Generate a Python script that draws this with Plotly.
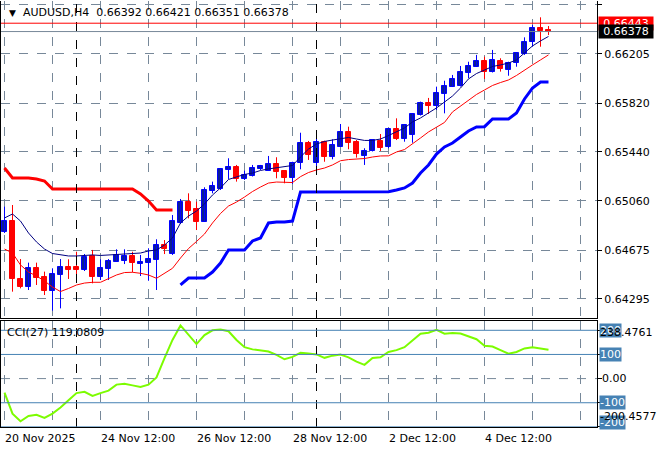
import plotly.graph_objects as go

# ---------------- data ----------------
x_idx = list(range(69))  # H4 bars, 20 Nov 2025 12:00 ... 5 Dec 2025 08:00

open_ = [0.64819, 0.64902, 0.64453, 0.64391, 0.64539, 0.64469, 0.64359, 0.64484, 0.64546, 0.64546,
         0.64521, 0.64630, 0.64464, 0.64531, 0.64585, 0.64589, 0.64630, 0.64570, 0.64578, 0.64599,
         0.64715, 0.64645, 0.64885, 0.65053, 0.64996, 0.64897, 0.65138, 0.65149, 0.65302, 0.65323,
         0.65232, 0.65253, 0.65310, 0.65294, 0.65346, 0.65292, 0.65235, 0.65352, 0.65508, 0.65357,
         0.65518, 0.65403, 0.65481, 0.65596, 0.65518, 0.65409, 0.65448, 0.65526, 0.65477, 0.65617,
         0.65539, 0.65572, 0.65728, 0.65822, 0.65801, 0.65892, 0.65949, 0.65954, 0.66053, 0.66104,
         0.66149, 0.66063, 0.66149, 0.66079, 0.66131, 0.66203, 0.66299, 0.66404, 0.66392]
high = [0.65014, 0.65027, 0.64606, 0.64578, 0.64578, 0.64508, 0.64534, 0.64606, 0.64604, 0.64663,
        0.64645, 0.64677, 0.64604, 0.64606, 0.64682, 0.64682, 0.64663, 0.64638, 0.64690, 0.64760,
        0.64754, 0.64949, 0.65074, 0.65118, 0.65053, 0.65165, 0.65209, 0.65313, 0.65391, 0.65339,
        0.65294, 0.65339, 0.65339, 0.65409, 0.65399, 0.65296, 0.65364, 0.65590, 0.65526, 0.65598,
        0.65528, 0.65539, 0.65658, 0.65637, 0.65533, 0.65469, 0.65539, 0.65580, 0.65625, 0.65702,
        0.65658, 0.65741, 0.65832, 0.65861, 0.65949, 0.65995, 0.66040, 0.66110, 0.66143, 0.66196,
        0.66182, 0.66235, 0.66170, 0.66143, 0.66214, 0.66333, 0.66429, 0.66489, 0.66421]
low = [0.64809, 0.64352, 0.64378, 0.64365, 0.64404, 0.64326, 0.64204, 0.64222, 0.64451, 0.64482,
       0.64513, 0.64417, 0.64443, 0.64443, 0.64583, 0.64567, 0.64503, 0.64474, 0.64437, 0.64365,
       0.64645, 0.64638, 0.64879, 0.64923, 0.64832, 0.64895, 0.65118, 0.65144, 0.65230, 0.65209,
       0.65222, 0.65249, 0.65300, 0.65292, 0.65235, 0.65196, 0.65191, 0.65305, 0.65378, 0.65325,
       0.65364, 0.65383, 0.65479, 0.65461, 0.65396, 0.65339, 0.65444, 0.65448, 0.65469, 0.65533,
       0.65520, 0.65512, 0.65724, 0.65736, 0.65767, 0.65741, 0.65946, 0.65950, 0.66014, 0.66102,
       0.66009, 0.66059, 0.66066, 0.66034, 0.66104, 0.66196, 0.66260, 0.66260, 0.66351]
close = [0.64902, 0.64448, 0.64388, 0.64539, 0.64456, 0.64359, 0.64490, 0.64546, 0.64521, 0.64521,
         0.64624, 0.64464, 0.64539, 0.64593, 0.64638, 0.64630, 0.64573, 0.64585, 0.64606, 0.64715,
         0.64684, 0.64902, 0.65053, 0.64983, 0.64897, 0.65144, 0.65175, 0.65308, 0.65323, 0.65230,
         0.65258, 0.65313, 0.65331, 0.65344, 0.65286, 0.65234, 0.65357, 0.65508, 0.65417, 0.65518,
         0.65403, 0.65494, 0.65596, 0.65512, 0.65424, 0.65450, 0.65533, 0.65473, 0.65617, 0.65544,
         0.65648, 0.65736, 0.65824, 0.65801, 0.65897, 0.65954, 0.66009, 0.66063, 0.66110, 0.66149,
         0.66061, 0.66157, 0.66087, 0.66131, 0.66209, 0.66299, 0.66404, 0.66385, 0.66378]

ma_navy = [0.64926, 0.64957, 0.64902, 0.64809, 0.64739, 0.64684, 0.64649, 0.64638, 0.64630, 0.64630,
           0.64634, 0.64638, 0.64634, 0.64638, 0.64645, 0.64649, 0.64653, 0.64653, 0.64669, 0.64677,
           0.64715, 0.64770, 0.64887, 0.64941, 0.64980, 0.65035, 0.65105, 0.65160, 0.65226, 0.65245,
           0.65265, 0.65276, 0.65296, 0.65308, 0.65319, 0.65327, 0.65335, 0.65401, 0.65463, 0.65502,
           0.65522, 0.65533, 0.65545, 0.65553, 0.65541, 0.65530, 0.65530, 0.65541, 0.65568, 0.65596,
           0.65627, 0.65674, 0.65705, 0.65744, 0.65783, 0.65829, 0.65876, 0.65938, 0.66009, 0.66051,
           0.66079, 0.66106, 0.66118, 0.66133, 0.66157, 0.66211, 0.66266, 0.66305, 0.66340]
ma_red = [0.64684, 0.64653, 0.64560, 0.64505, 0.64474, 0.64435, 0.64388, 0.64353, 0.64377, 0.64404,
          0.64419, 0.64425, 0.64425, 0.64451, 0.64482, 0.64501, 0.64503, 0.64495, 0.64482, 0.64456,
          0.64497, 0.64534, 0.64614, 0.64688, 0.64743, 0.64801, 0.64887, 0.64961, 0.65019, 0.65050,
          0.65089, 0.65132, 0.65167, 0.65198, 0.65206, 0.65206, 0.65202, 0.65248, 0.65280, 0.65300,
          0.65315, 0.65339, 0.65372, 0.65381, 0.65385, 0.65389, 0.65401, 0.65409, 0.65410, 0.65440,
          0.65459, 0.65502, 0.65549, 0.65596, 0.65635, 0.65670, 0.65752, 0.65798, 0.65837, 0.65888,
          0.65923, 0.65958, 0.65981, 0.66001, 0.66036, 0.66079, 0.66118, 0.66157, 0.66196]

stop_down = [0.65315, 0.65237, 0.65237, 0.65237, 0.65230, 0.65214, 0.65152, 0.65152, 0.65152, 0.65152,
             0.65152, 0.65152, 0.65152, 0.65152, 0.65152, 0.65152, 0.65152, 0.65113, 0.65058, 0.64988,
             0.64988, 0.64988] + [None] * 47
stop_up = [None] * 22 + [
    0.64404, 0.64458, 0.64458, 0.64458, 0.64505, 0.64575, 0.64677, 0.64677,
    0.64677, 0.64747, 0.64770, 0.64887, 0.64895, 0.64895, 0.64902, 0.65128, 0.65128, 0.65128,
    0.65128, 0.65128, 0.65128, 0.65128, 0.65128, 0.65128, 0.65128, 0.65128, 0.65131, 0.65144,
    0.65160, 0.65198, 0.65276, 0.65339, 0.65424, 0.65479, 0.65510, 0.65557, 0.65604, 0.65635,
    0.65637, 0.65697, 0.65697, 0.65697, 0.65744, 0.65853, 0.65938, 0.65985, 0.65985]

cci = [-58, -145, -177, -155, -150, -163, -145, -120, -90, -60,
       -55, -72, -60, -50, -25, -21, -28, -35, -25, 5,
       85, 160, 220, 180, 143, 180, 200, 203, 196, 160,
       130, 121, 118, 112, 98, 80, 90, 107, 104, 100,
       86, 95, 100, 88, 70, 57, 85, 88, 110, 118,
       130, 160, 186, 190, 202, 186, 189, 187, 175, 163,
       136, 133, 118, 103, 110, 125, 130, 126, 119.08]

price_ticks = [0.66585, 0.66205, 0.65820, 0.65440, 0.65060, 0.64675, 0.64295]
price_tick_text = ["0.66585", "0.66205", "0.65820", "0.65440", "0.65060", "0.64675", "0.64295"]
date_tick_idx = [0, 12, 24, 36, 48, 60]
date_tick_text = ["20 Nov 2025", "24 Nov 12:00", "26 Nov 12:00", "28 Nov 12:00", "2 Dec 12:00", "4 Dec 12:00"]
separator_idx = [9, 39]
line_red_price = 0.66443
bid_price = 0.66378
cci_levels = [200, 100, -100, -200]
cci_max, cci_min = 238.4761, -200.4577

# ---------------- figure ----------------
F = "DejaVu Sans"
GRID = "#778899"
fig = go.Figure()

bx, by, rx, ry = [], [], [], []
for i, o, h, l, c in zip(x_idx, open_, high, low, close):
    if c >= o:
        bx += [i, i, None]; by += [l, h, None]
    else:
        rx += [i, i, None]; ry += [l, h, None]
fig.add_trace(go.Scatter(x=bx, y=by, mode="lines", line=dict(color="#0000FF", width=1),
                         xaxis="x", yaxis="y", hoverinfo="skip"))
fig.add_trace(go.Scatter(x=rx, y=ry, mode="lines", line=dict(color="#FF0000", width=1),
                         xaxis="x", yaxis="y", hoverinfo="skip"))

bull = [i for i in x_idx if close[i] >= open_[i]]
bear = [i for i in x_idx if close[i] < open_[i]]
fig.add_trace(go.Bar(x=bull, base=[open_[i] for i in bull],
                     y=[max(close[i] - open_[i], 0.00001) for i in bull], width=0.55,
                     marker=dict(color="#0B1E94", line=dict(color="#0000FF", width=1)),
                     xaxis="x", yaxis="y"))
fig.add_trace(go.Bar(x=bear, base=[close[i] for i in bear],
                     y=[max(open_[i] - close[i], 0.00001) for i in bear], width=0.55,
                     marker=dict(color="#FF0000", line=dict(color="#FF0000", width=1)),
                     xaxis="x", yaxis="y"))

fig.add_trace(go.Scatter(x=x_idx, y=ma_red, mode="lines", line=dict(color="#FF0000", width=1),
                         xaxis="x", yaxis="y"))
fig.add_trace(go.Scatter(x=x_idx, y=ma_navy, mode="lines", line=dict(color="#000080", width=1),
                         xaxis="x", yaxis="y"))
fig.add_trace(go.Scatter(x=x_idx, y=stop_down, mode="lines", line=dict(color="#FF0000", width=3),
                         xaxis="x", yaxis="y", connectgaps=False))
fig.add_trace(go.Scatter(x=x_idx, y=stop_up, mode="lines", line=dict(color="#0000FF", width=3),
                         xaxis="x", yaxis="y", connectgaps=False))

fig.add_trace(go.Scatter(x=x_idx, y=cci, mode="lines", line=dict(color="#7CFC00", width=2),
                         xaxis="x2", yaxis="y2"))

xr = [-0.4375, 74.0625]
xcommon = dict(range=xr, showticklabels=False, showgrid=True, gridcolor=GRID, griddash="dash",
               gridwidth=1, tickmode="linear", tick0=6, dtick=6, zeroline=False, ticks="",
               showline=True, linecolor="black", linewidth=1)

shapes = []
for s in separator_idx:
    shapes.append(dict(type="line", xref="x", yref="paper", x0=s, x1=s, y0=0, y1=1,
                       line=dict(color="black", width=1, dash="dash")))
shapes.append(dict(type="line", xref="paper", yref="y", x0=0, x1=1, y0=line_red_price, y1=line_red_price,
                   line=dict(color="#FF0000", width=1)))
shapes.append(dict(type="line", xref="paper", yref="y", x0=0, x1=1, y0=bid_price, y1=bid_price,
                   line=dict(color=GRID, width=1)))
for lv in cci_levels:
    shapes.append(dict(type="line", xref="paper", yref="y2", x0=0, x1=1, y0=lv, y1=lv,
                       line=dict(color="#4682B4", width=1)))
shapes.append(dict(type="line", xref="paper", yref="y2", x0=0, x1=1, y0=0, y1=0,
                   line=dict(color=GRID, width=1, dash="dash")))

ann = []
ann.append(dict(xref="paper", yref="paper", x=0.010, y=0.9725, xanchor="left", yanchor="middle",
                text="▼", showarrow=False, font=dict(family=F, size=9, color="black")))
ann.append(dict(xref="paper", yref="paper", x=0.034, y=0.9725, xanchor="left", yanchor="middle",
                text="AUDUSD,H4  0.66392 0.66421 0.66351 0.66378", showarrow=False,
                font=dict(family=F, size=11, color="black")))
for xi, t in zip(date_tick_idx, date_tick_text):
    ann.append(dict(xref="x", yref="paper", x=xi, y=-0.026, xanchor="left", yanchor="middle",
                    text=t, showarrow=False, xshift=-2, font=dict(family=F, size=11, color="black")))
ann.append(dict(xref="paper", yref="y", x=1, y=line_red_price, xanchor="left", yanchor="middle",
                text="0.66443", showarrow=False, bgcolor="#FF0000", width=54, height=13, borderpad=0,
                xshift=1, font=dict(family=F, size=11, color="white")))
ann.append(dict(xref="paper", yref="y", x=1, y=bid_price, xanchor="left", yanchor="middle",
                text="0.66378", showarrow=False, bgcolor="#000000", width=54, height=13, borderpad=0,
                xshift=1, font=dict(family=F, size=11, color="white")))
for lv in cci_levels:
    ann.append(dict(xref="paper", yref="y2", x=1, y=lv, xanchor="left", yanchor="middle",
                    text=str(lv), showarrow=False, bgcolor="#4682B4", borderpad=0, xshift=2,
                    yshift=(4 if lv == -200 else 0),
                    font=dict(family=F, size=11, color="white")))
ann.append(dict(xref="paper", yref="y2", x=1, y=0, xanchor="left", yanchor="middle", text="0.00",
                showarrow=False, xshift=3, font=dict(family=F, size=11, color="black")))
ann.append(dict(xref="paper", yref="y2", x=1, y=cci_max, xanchor="left", yanchor="top",
                text="238.4761", showarrow=False, xshift=1, yshift=-3,
                font=dict(family=F, size=11, color="black")))
ann.append(dict(xref="paper", yref="y2", x=1, y=cci_min, xanchor="left", yanchor="bottom",
                text="-200.4577", showarrow=False, xshift=1, yshift=2,
                font=dict(family=F, size=11, color="black")))
ann.append(dict(xref="paper", yref="y2", x=0, y=cci_max, xanchor="left", yanchor="top",
                text="CCI(27) 119.0809", showarrow=False, xshift=4, yshift=-3,
                font=dict(family=F, size=11, color="black")))

fig.update_layout(
    width=660, height=450,
    margin=dict(l=1, r=63, t=1, b=23),
    paper_bgcolor="white", plot_bgcolor="white",
    showlegend=False, barmode="overlay", bargap=0,
    font=dict(family=F, size=11, color="black"),
    xaxis=dict(anchor="y", domain=[0, 1], **xcommon),
    xaxis2=dict(anchor="y2", domain=[0, 1], matches="x", mirror=True, **xcommon),
    yaxis=dict(domain=[0.2547, 1], range=[0.64143, 0.66616], side="right",
               tickmode="array", tickvals=price_ticks, ticktext=price_tick_text,
               ticks="outside", ticklen=4, tickcolor="black",
               tickfont=dict(family=F, size=11, color="black"),
               showgrid=True, gridcolor=GRID, griddash="dash", gridwidth=1, zeroline=False,
               showline=True, linecolor="black", linewidth=1, mirror=True),
    yaxis2=dict(domain=[0, 0.2488], range=[cci_min, cci_max], side="right",
                tickmode="array", tickvals=[200, 100, 0, -100, -200], showticklabels=False,
                ticks="outside", ticklen=4, tickcolor="black",
                showgrid=False, zeroline=False,
                showline=True, linecolor="black", linewidth=1, mirror=True),
    shapes=shapes, annotations=ann,
)

fig.write_html("out.html", config={"displayModeBar": False},
               post_script="document.body.style.margin='0';document.body.style.overflow='hidden';")
